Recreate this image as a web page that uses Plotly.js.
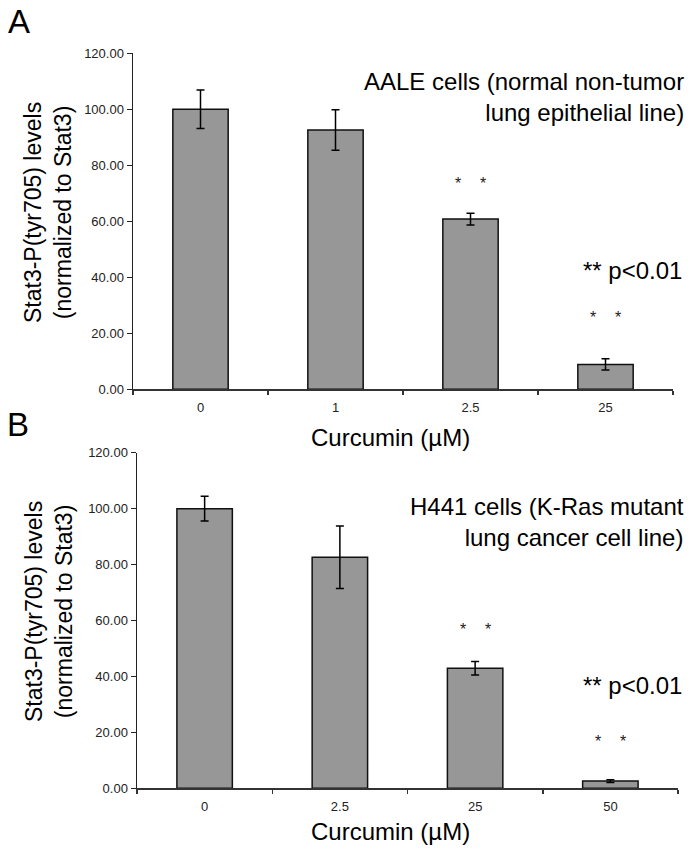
<!DOCTYPE html>
<html>
<head>
<meta charset="utf-8">
<script src="https://cdn.plot.ly/plotly-3.0.1.min.js"></script>
<style>html,body{margin:0;padding:0;background:#fff;}#chart{width:700px;height:853px;}</style>
</head>
<body>
<div id="chart"></div>
<script>
// ---- Data ----
const catsA = ["0", "1", "2.5", "25"];
const valsA = [100, 92.6, 60.8, 8.9];
const errA  = [6.9, 7.2, 2.1, 2.0];
const starCatsA = ["2.5", "25"];
const starYA = [74.4, 26.6];

const catsB = ["0", "2.5", "25", "50"];
const valsB = [100, 82.6, 42.9, 2.6];
const errB  = [4.4, 11.2, 2.4, 0.5];
const starCatsB = ["25", "50"];
const starYB = [57.8, 17.9];

const yTitle = "Stat3-P(tyr705) levels<br>(normalized to Stat3)";
const xTitle = "Curcumin (µM)";
const titleA = "AALE cells (normal non-tumor<br>lung epithelial line)";
const titleB = "H441 cells (K-Ras mutant<br>lung cancer cell line)";
const pText = "** p<0.01";

// ---- Layout helpers ----
const W = 700, H = 853;
const px = x => x / W;
const py = y => 1 - y / H;
const FONT = "Liberation Sans, Arial, sans-serif";

function barTrace(cats, vals, errs, xa, ya) {
  return {
    type: "bar", x: cats, y: vals, xaxis: xa, yaxis: ya,
    marker: {color: "#979797", line: {color: "#111", width: 1.5}},
    error_y: {type: "data", array: errs, visible: true, color: "#000", thickness: 1.5, width: 4},
    showlegend: false, hoverinfo: "skip"
  };
}

const data = [barTrace(catsA, valsA, errA, "x", "y"), barTrace(catsB, valsB, errB, "x2", "y2")];

function yAxis(domain, anchor) {
  return {
    domain: domain, anchor: anchor, range: [0, 120], dtick: 20, tickformat: ".2f",
    showgrid: false, zeroline: false, showline: true, linecolor: "#222", linewidth: 1.5,
    ticks: "outside", ticklen: 5, tickwidth: 1.5, tickcolor: "#222",
    tickfont: {family: FONT, size: 13, color: "#222"}, fixedrange: true
  };
}
function xAxis(domain, anchor, cats) {
  return {
    domain: domain, anchor: anchor, type: "category",
    categoryorder: "array", categoryarray: cats,
    range: [-0.5, cats.length - 0.5], autorange: false, tickangle: 0,
    showgrid: false, zeroline: false, showline: true, linecolor: "#333", linewidth: 1.5,
    ticks: "outside", tickson: "boundaries", ticklen: 4, tickwidth: 1.5, tickcolor: "#333",
    ticklabelstandoff: 6,
    tickfont: {family: FONT, size: 13, color: "#222"}, fixedrange: true
  };
}

const annotations = [];
function txt(text, x, y, size, opts) {
  annotations.push(Object.assign({
    text: text, xref: "paper", yref: "paper", x: px(x), y: py(y),
    xanchor: "center", yanchor: "middle", showarrow: false,
    font: {family: FONT, size: size, color: "#000"}
  }, opts || {}));
}
// Panel letters
txt("A", 19, 21, 33);
txt("B", 18, 424, 33);
// Y titles
txt(yTitle, 48, 213, 23, {textangle: -90});
txt(yTitle, 49, 612, 23, {textangle: -90});
// X titles
txt(xTitle, 390, 437, 24);
txt(xTitle, 390, 831, 24);
// Panel titles
txt(titleA, 686, 97, 24, {xanchor: "right", align: "right"});
txt(titleB, 686, 522, 24, {xanchor: "right", align: "right"});
// p-value notes
txt(pText, 684, 270, 24, {xanchor: "right"});
txt(pText, 684, 685, 24, {xanchor: "right"});
// Stars
function stars(cats, allCats, ys, xref, yref) {
  cats.forEach((c, i) => {
    const idx = allCats.indexOf(c);
    [-12.5, 12.5].forEach(s => {
      annotations.push({
        text: "*", xref: xref, yref: yref, x: idx, y: ys[i], xshift: s, yshift: -3,
        showarrow: false, xanchor: "center", yanchor: "middle",
        font: {family: FONT, size: 16, color: "#222"}
      });
    });
  });
}
stars(starCatsA, catsA, starYA, "x", "y");
stars(starCatsB, catsB, starYB, "x2", "y2");

const layout = {
  width: W, height: H,
  margin: {l: 0, r: 0, t: 0, b: 0},
  paper_bgcolor: "#fff", plot_bgcolor: "#fff",
  bargap: 0.59,
  font: {family: FONT},
  xaxis: xAxis([px(133), px(673)], "y", catsA),
  yaxis: yAxis([py(389.3), py(53.3)], "x"),
  xaxis2: xAxis([px(137), px(678)], "y2", catsB),
  yaxis2: yAxis([py(788.3), py(452.7)], "x2"),
  annotations: annotations
};

Plotly.newPlot("chart", data, layout, {staticPlot: true, displayModeBar: false});
</script>
</body>
</html>
